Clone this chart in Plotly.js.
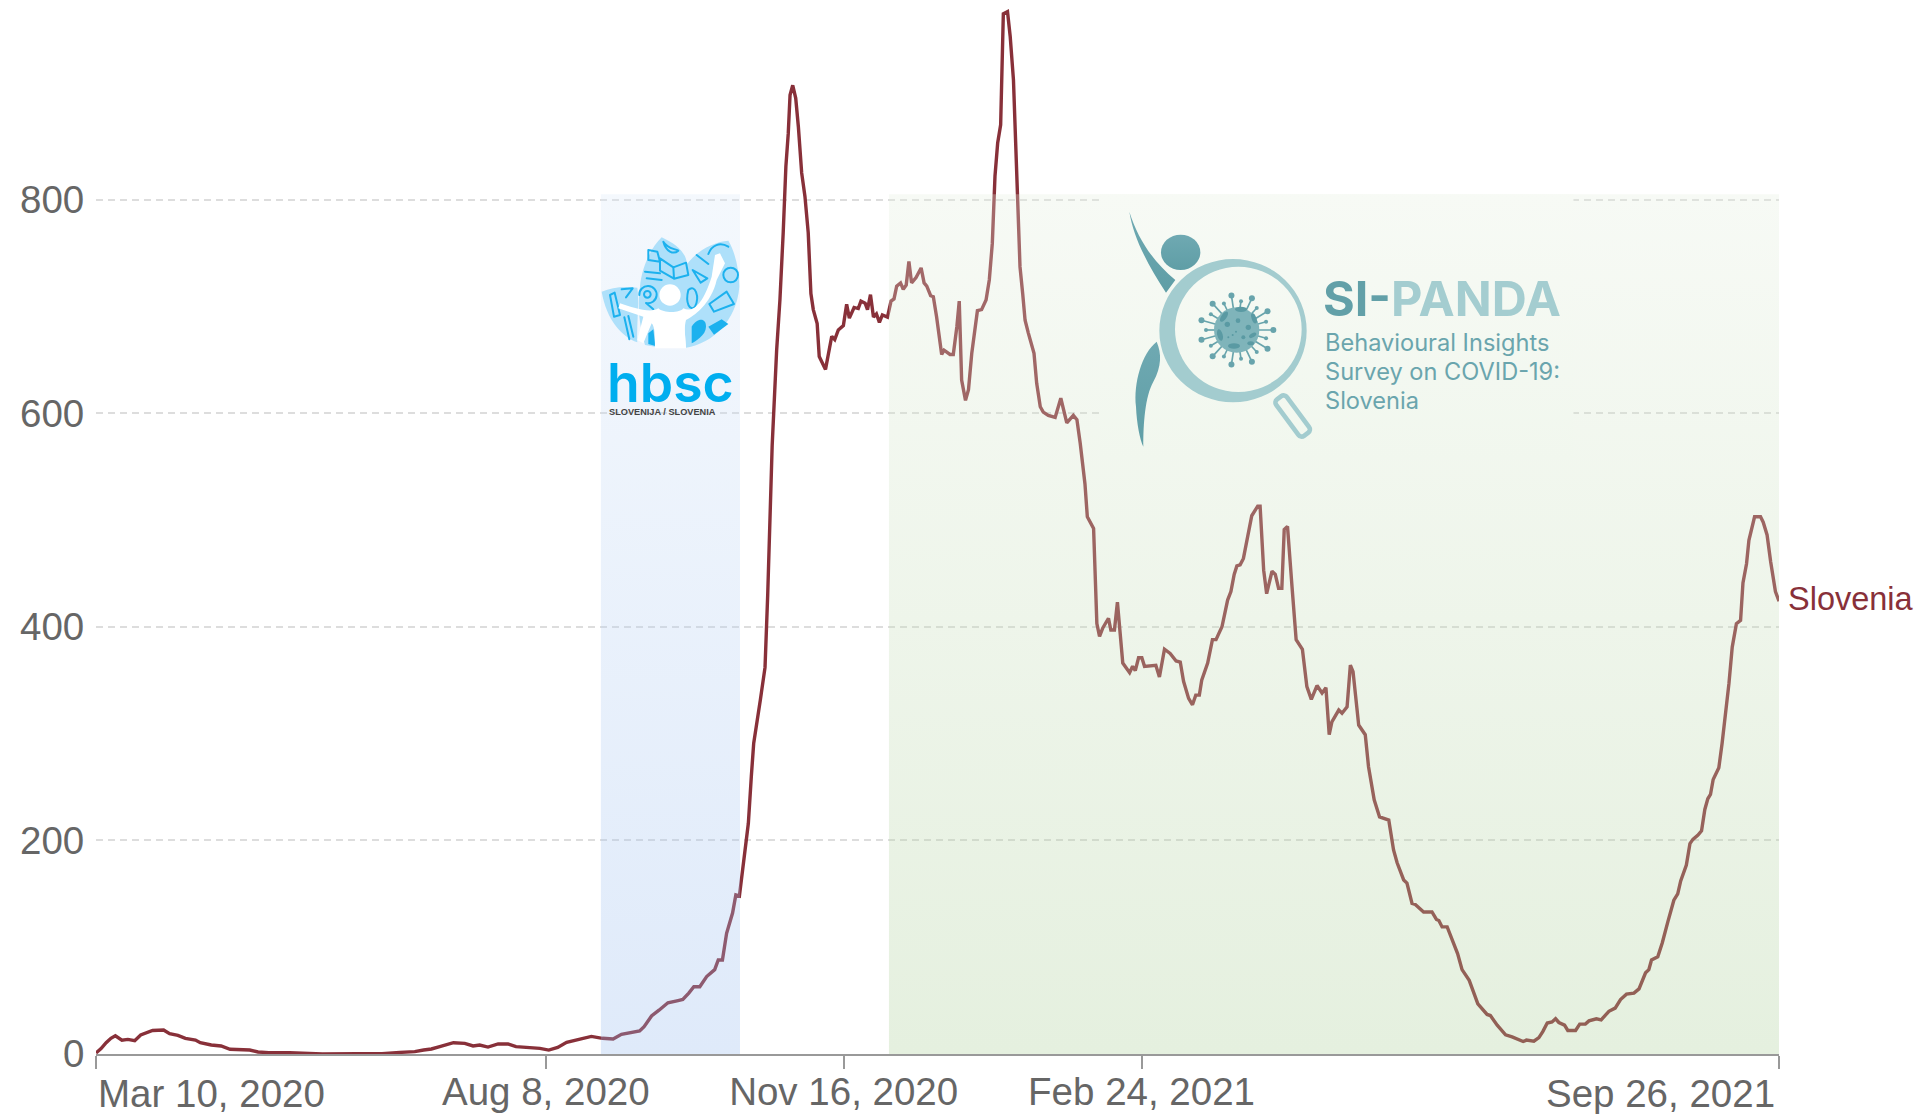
<!DOCTYPE html>
<html>
<head>
<meta charset="utf-8">
<script src="https://cdn.plot.ly/plotly-3.0.1.min.js"></script>
<style>html,body{margin:0;padding:0;background:#fff}#chart{width:1919px;height:1114px}</style>
</head>
<body>
<div id="chart"></div>
<script>
const countryName = "Slovenia";
const startDate = "2020-03-10";
const endDate = "2021-09-26";
const daysSinceStart = [0,1.7,3.4,5,6.5,8.7,10.7,13,15,17,19,22.7,24.7,27.5,30,33.4,35,38.7,42,45,51.6,54.4,58,65,70.6,76,87.4,96,102,107,110,112.6,115.4,120,123.8,126.6,128.8,131.6,135,138.3,141,144.5,149,152,155,158,161,164.6,166.3,170,173.6,176.4,179,182.5,184,186.5,189,192,195.4,197,199,200.7,202.7,205,207.7,208.9,210.3,211.7,213.7,214.8,216,217.3,219,220,220.8,223,224.6,225.5,226.3,227,228.5,229.6,230.7,231.6,232.4,233,233.9,234.9,235.8,236.9,238,239.1,240,240.8,242.1,242.8,244.9,245.8,247,248,249.2,250.9,252,252.9,254.5,255.9,256.8,258.2,259,260,261,262,263,264,265.7,266.9,267.9,268.8,270.1,271,272,272.9,273.8,275.3,277,278,278.9,280.2,281.1,282.2,283.1,283.9,284.7,286.7,287.8,289,289.8,290.6,291.9,292.9,294,295.9,297.3,298.8,299.9,300.9,301.8,302.7,303.7,304.6,306,306.9,308,308.9,309.4,310.2,311.1,311.9,313,314.9,315.8,317,318,319.7,322,323.9,325.9,328.1,329.3,330.4,332,332.8,334.9,336,336.9,338,339.9,340.7,341.9,342.9,344.7,347,348,348.9,350,351.1,352,355,355.8,357,358.7,360.6,362.6,364,365.1,366.8,368.1,369.2,370.4,371.2,373.2,374.8,376,378,379.9,381,382.1,383,384.1,385.2,386.6,388,390,390.8,392,393,394.8,395.9,397,398.1,398.9,400,401.5,402.9,405,406.5,408,409.9,411.6,412.9,414,414.9,417.2,418.3,420,421.1,422,423.9,426.1,427.2,429.1,430.9,434,435.6,436.8,439,440.1,441.8,442.9,445.7,448.5,450,450.8,451.9,453.6,455.2,457.1,458.6,461,463.9,467,468.1,470.4,473.2,475.4,479.1,480.2,482.7,484.4,485.7,487.2,488.8,490,491.1,493,494.1,496.7,498.1,500,501.2,503.7,505.3,507.9,510,511.8,513.8,516.3,518,520.2,521.3,522.2,524.3,525.8,527.7,529.7,531,532,533.9,535.1,536.1,537.8,539,540.1,541.1,542,542.9,544.8,545.9,547,548.2,549.3,550.7,552.1,552.9,554.1,554.9,556.8,558.8,559.7,561,562.2,563.8,565];
const weeklyCases = [1,5,10.6,14.7,17,13,13.7,12.5,17.8,20,22,22.5,19,17.5,14.7,13,10.6,8.4,7.5,4.4,3.7,1.9,1.2,1.2,0.3,0,0.3,0.3,1.5,2.2,3.7,4.7,6.9,10.6,10,7.5,8.4,6.5,9.4,9.4,6.9,6.2,5.3,3.7,6.2,10.9,13,15.3,16.5,14.7,14,18.4,20,21.5,25.6,35.6,41,48,50,51,57,63,63,72.5,79,88,88,113,132,149,148,179,216,260,291,331,362,430,500,570,659,706,769,831,862,898,907,895,868,825,803,769,712,697,684,653,641,656,672,669,678,682,702,689,699,698,705,703,697,711,690,693,685,692,690,705,707,719,722,716,720,742,722,727,736,722,719,710,709,690,669,655,659,655,655,681,705,631,612,622,656,696,697,706,725,759,822,853,870,974,976,953,912,831,784,737,712,687,675,656,628,606,601,598,596,614,591,598,594,572,534,503,492,403,391,399,408,397,397,423,366,357,363,359,371,371,363,364,364,353,379,375,368,367,349,333,327,336,336,350,366,388,388,400,425,433,449,457,458,464,486,504,513,513,453,431,452,449,436,436,491,494,438,388,379,344,332,345,338,343,299,311,322,319,325,364,358,308,299,269,238,222,219,191,179,163,160,141,140,133,133,126,125,119,119,107,94,79,69,47,37,36,27,18,16,11.7,13,12,15.4,21,29,30,33,29.5,27,22,22,28,28,31,33,32,40,43,51,56,57,61,76,79,88,91,104,124,144,150,162,177,197,201,205,209,229,239,243,257,268,291,316,347,381,403,406,441,459,481,503,503,498,486,461,433,424];
const xTickDates = ["2020-03-10","2020-08-08","2020-11-16","2021-02-24","2021-09-26"];
const xTickLabels = ["Mar 10, 2020","Aug 8, 2020","Nov 16, 2020","Feb 24, 2021","Sep 26, 2021"];
const yTicks = [0,200,400,600,800];
const hbscBandDays = [169.5,216.2];
const pandaBandDays = [266.2,565];
const bandTop = [805];
const logoBoxDays = [337,496];
const logoBoxValues = [805,556];

const W=1919,H=1114,L=96,R=140,T=0,B=60;
const px=x=>(x-L)/(W-L-R), py=y=>1-(y-T)/(H-T-B);
const toDate=d=>new Date(Date.UTC(2020,2,10)+d*864e5).toISOString().slice(0,19).replace('T',' ');
const box=(x0,x1,y0,y1)=>({x:[toDate(x0),toDate(x1),toDate(x1),toDate(x0),toDate(x0)],y:[y0,y0,y1,y1,y0]});
const bandTrace=(b,scale)=>Object.assign(b,{type:'scatter',mode:'lines',line:{width:0},fill:'toself',
  fillgradient:{type:'vertical',colorscale:scale},hoverinfo:'skip',showlegend:false});

const traces=[
 {type:'scatter',mode:'lines',x:daysSinceStart.map(toDate),y:weeklyCases,name:countryName,line:{color:'#883039',width:3.4,shape:'linear'},showlegend:false},
 bandTrace(box(hbscBandDays[0],hbscBandDays[1],0,bandTop[0]),[[0,'rgba(148,185,238,0.3)'],[1,'rgba(218,232,248,0.3)']]),
 bandTrace(box(pandaBandDays[0],pandaBandDays[1],0,bandTop[0]),[[0,'rgba(168,205,148,0.3)'],[1,'rgba(228,238,222,0.3)']]),
 bandTrace(box(logoBoxDays[0],logoBoxDays[1],logoBoxValues[1],logoBoxValues[0]),[[0,'rgb(241,247,238)'],[1,'rgb(247,250,245)']])
];

/* logo artwork, no text: coordinates inside each picture's own viewBox */
function svgUri(w,h,body){return 'data:image/svg+xml;charset=utf-8,'+encodeURIComponent(`<svg xmlns="http://www.w3.org/2000/svg" width="${w}" height="${h}" viewBox="0 0 ${w} ${h}">${body}</svg>`);}
const hbscArt=`
<g fill="#aee0fa">
<path d="M65,335 C95,322 130,318 172,323 C178,360 170,440 172,487 C125,470 80,420 65,335Z"/>
<path d="M245,172 C285,190 315,215 320,245 C345,290 330,360 310,400 L225,500 L195,495 C180,440 170,380 180,320 C185,260 215,200 245,172Z"/>
<path d="M445,182 C400,185 340,215 310,270 C300,300 310,380 318,503 C400,490 470,420 478,320 C478,270 465,215 445,182Z"/>
</g>
<g fill="none" stroke="#1cb1ee" stroke-width="6" stroke-linecap="round" stroke-linejoin="round">
<path d="M90,345 L104,338 L120,405 L102,410Z"/><path d="M125,328 L158,325 L138,352"/>
<path d="M133,412 L148,478 M145,408 L160,470"/>
<path d="M240,235 L280,262 L318,248 L325,285 L282,296 L240,272Z M280,262 L282,296"/>
<path d="M205,240 L240,245 L232,215 L205,210Z"/><path d="M250,185 C262,205 280,205 295,212 C280,225 258,215 250,185Z"/>
<path d="M178,345 a26,26 0 1,1 20,24 L220,388"/><circle cx="202" cy="343" r="10"/>
<path d="M195,275 L240,280 M200,295 L245,300"/>
<path d="M325,330 C345,310 360,350 345,380 C330,395 315,370 325,330Z"/>
<path d="M350,225 L385,252 M338,270 L382,295 L362,308Z"/>
<path d="M388,372 L440,335 L462,372 L402,395Z"/>
<path d="M385,222 C395,195 420,185 445,200"/>
<circle cx="452" cy="285" r="22"/>
</g>
<g fill="#1cb1ee">
<path d="M335,440 C350,415 378,410 378,440 C378,465 345,485 335,490Z"/>
<path d="M385,440 L425,418 L445,432 L402,464Z"/>
<path d="M205,460 L220,448 L226,498 L205,492Z"/>
</g>
<g fill="#fff">
<circle cx="270" cy="345" r="32"/>
<path d="M235,385 C250,400 300,400 310,385 C340,400 370,370 395,290 L405,225 L420,220 L435,250 L410,300 C395,370 340,410 318,420 C310,450 318,480 318,505 L225,505 C225,470 225,440 215,430 L190,490 L172,480 L190,410 L115,385 L120,370 C160,385 215,400 235,385Z"/>
</g>`;
let spikes='';
for(let i=0;i<22;i++){const a=i/22*2*Math.PI,r=i%2?92:110,cx=380+r*Math.cos(a),cy=420+r*Math.sin(a)*0.95;
 spikes+=`<line x1="380" y1="420" x2="${cx}" y2="${cy}" stroke="#68a4ac" stroke-width="5"/><circle cx="${cx}" cy="${cy}" r="${i%2?6:9}" fill="#68a4ac"/>`;}
const pandaArt=`
<defs><linearGradient id="g" x1="0" y1="0" x2="0" y2="1"><stop offset="0" stop-color="#6fa9b2"/><stop offset="1" stop-color="#5f9ea6"/></linearGradient></defs>
<path fill="url(#g)" d="M58,65 C70,140 110,220 168,308 L196,270 C130,215 85,150 58,65Z"/>
<ellipse cx="212" cy="187" rx="59" ry="53" fill="url(#g)"/>
<path fill="url(#g)" d="M140,455 C95,490 70,580 78,650 C80,700 90,750 100,770 C100,700 105,620 130,575 C155,530 155,490 140,455Z"/>
<path fill="#a3cccf" fill-rule="evenodd" d="M148,422 A220,214 0 1,1 590,422 A220,214 0 1,1 148,422Z M195,418 A190,188 0 1,0 575,418 A190,188 0 1,0 195,418Z"/>
<rect x="-68" y="-20" width="136" height="40" rx="12" transform="translate(548,678) rotate(53.5)" fill="none" stroke="#a3cccf" stroke-width="14"/>
${spikes}
<circle cx="380" cy="420" r="68" fill="#7fb4ba"/>
<g fill="#5a9aa3">
<ellipse cx="393" cy="358" rx="18" ry="8"/><ellipse cx="342" cy="380" rx="8" ry="18" transform="rotate(35 342 380)"/>
<ellipse cx="432" cy="385" rx="7" ry="16" transform="rotate(-20 432 385)"/><ellipse cx="330" cy="435" rx="8" ry="18" transform="rotate(-15 330 435)"/>
<ellipse cx="372" cy="468" rx="18" ry="8"/><circle cx="352" cy="403" r="8"/><circle cx="415" cy="412" r="8"/><circle cx="384" cy="392" r="7"/><ellipse cx="428" cy="436" rx="12" ry="6" transform="rotate(-30 428 436)"/><circle cx="400" cy="442" r="6"/><circle cx="368" cy="435" r="3"/><circle cx="355" cy="442" r="3"/><circle cx="378" cy="425" r="3"/><ellipse cx="422" cy="460" rx="10" ry="6"/>
</g>`;

const ann=(text,x,y,font)=>({text,x:px(x),y:py(y),xref:'paper',yref:'paper',xanchor:'left',yanchor:'middle',showarrow:false,borderpad:0,font});
const annotations=[
 {text:xTickLabels[0],x:xTickDates[0],xref:'x',y:py(1093),yref:'paper',xanchor:'left',yanchor:'middle',showarrow:false,font:{size:38.5,color:'#666'}},
 {text:xTickLabels[4],x:xTickDates[4],xref:'x',xshift:-2,y:py(1093),yref:'paper',xanchor:'right',yanchor:'middle',showarrow:false,font:{size:38.5,color:'#666'}},
 {text:countryName,x:endDate,xref:'x',xshift:7,yshift:2,y:weeklyCases[weeklyCases.length-1],yref:'y',xanchor:'left',yanchor:'middle',showarrow:false,font:{size:32.5,color:'#883039'}},
 ann('hbsc',606,382,{family:'Inter',size:53.5,color:'#00aeef',weight:600}),
 ann('SLOVENIJA / SLOVENIA',608,412,{family:'Liberation Sans',size:9.2,color:'#444',weight:700}),
 ann('<span style="color:#62a0a8">SI-</span><span style="color:#a4cdd0">PANDA</span>',1322,298,{family:'Inter',size:48.5,color:'#62a0a8',weight:700}),
 ann('Behavioural Insights',1324,342.5,{family:'Inter',size:23.6,color:'#6aa5ad'}),
 ann('Survey on COVID-19:',1324,371.5,{family:'Inter',size:23.6,color:'#6aa5ad'}),
 ann('Slovenia',1324,400.5,{family:'Inter',size:23.6,color:'#6aa5ad'})
];

const layout={
 width:W,height:H,paper_bgcolor:'#fff',plot_bgcolor:'#fff',
 margin:{l:L,r:R,t:T,b:B,pad:0},
 font:{family:'Liberation Sans, Arial, sans-serif',color:'#666'},
 showlegend:false,
 xaxis:{type:'date',range:[startDate,endDate],tickmode:'array',tickvals:xTickDates,
   ticktext:xTickLabels.map((t,i)=>(i===0||i===xTickLabels.length-1)?'':t),
   ticks:'outside',ticklen:13,tickwidth:2,tickcolor:'#999',ticklabelstandoff:-10,showgrid:false,showline:true,linecolor:'#999',linewidth:2,
   zeroline:false,tickfont:{size:38.5,color:'#666'},layer:'below traces',fixedrange:true},
 yaxis:{range:[0,(H-T-B)/1.068],tickmode:'array',tickvals:yTicks,ticks:'outside',ticklen:3,tickcolor:'rgba(0,0,0,0)',
   showgrid:true,gridcolor:'#ddd',griddash:'7px,5px',gridwidth:2,zeroline:false,showline:false,
   tickfont:{size:38.5,color:'#666'},layer:'below traces',fixedrange:true},
 annotations,
 images:[
  {source:svgUri(900,780,hbscArt),xref:'paper',yref:'paper',x:px(580),y:py(180),sizex:300/(W-L-R),sizey:260/(H-T-B),xanchor:'left',yanchor:'top',sizing:'stretch',layer:'above'},
  {source:svgUri(1440,810,pandaArt),xref:'paper',yref:'paper',x:px(1110),y:py(190),sizex:480/(W-L-R),sizey:270/(H-T-B),xanchor:'left',yanchor:'top',sizing:'stretch',layer:'above'}
 ]
};
Plotly.newPlot('chart',traces,layout,{displayModeBar:false,staticPlot:true});
</script>
</body>
</html>
